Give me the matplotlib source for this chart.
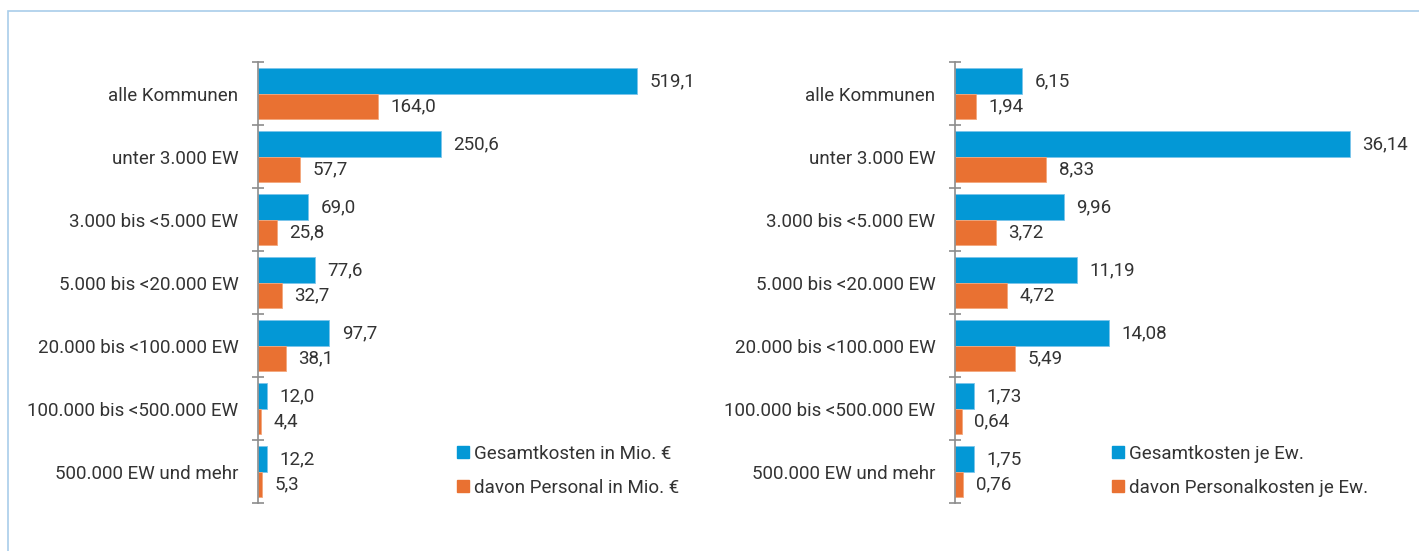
import matplotlib.pyplot as plt
from matplotlib.lines import Line2D
from matplotlib.patches import Rectangle
import numpy as np

plt.rcParams['font.family'] = ['Roboto', 'DejaVu Sans']

categories = ["alle Kommunen", "unter 3.000 EW", "3.000 bis <5.000 EW",
              "5.000 bis <20.000 EW", "20.000 bis <100.000 EW",
              "100.000 bis <500.000 EW", "500.000 EW und mehr"]
gesamt_mio = [519.1, 250.6, 69.0, 77.6, 97.7, 12.0, 12.2]
personal_mio = [164.0, 57.7, 25.8, 32.7, 38.1, 4.4, 5.3]
gesamt_ew = [6.15, 36.14, 9.96, 11.19, 14.08, 1.73, 1.75]
personal_ew = [1.94, 8.33, 3.72, 4.72, 5.49, 0.64, 0.76]

blue = '#0398d6'
orange = '#e97132'
txt = '#333333'
grey = '#8c8c8c'
fs = 13.5

fig = plt.figure(figsize=(14.19, 5.51), dpi=100)
fig.patches.append(Rectangle((8 / 1419, -0.1), 1.2, 1 - 11 / 551 + 0.1,
                             transform=fig.transFigure, fill=False,
                             edgecolor='#a9cdea', linewidth=1.2))

ax1 = fig.add_axes([258 / 1419, 48 / 551, 442 / 1419, 441 / 551])
ax2 = fig.add_axes([955 / 1419, 48 / 551, 455 / 1419, 441 / 551])


def draw(ax, g, p, xmax, fmt):
    y = np.arange(len(categories))
    h = 0.4
    ax.barh(y - h / 2, g, height=h, color=blue, edgecolor='#7cc4ea', linewidth=0.6)
    ax.barh(y + h / 2, p, height=h, color=orange, edgecolor='#f3a77c', linewidth=0.6)
    for yi, v in zip(y, g):
        ax.annotate(fmt.format(v).replace('.', ','), (v, yi - h / 2), xytext=(9, 0),
                    textcoords='offset points', va='center', ha='left',
                    fontsize=fs, color=txt)
    for yi, v in zip(y, p):
        ax.annotate(fmt.format(v).replace('.', ','), (v, yi + h / 2), xytext=(9, 0),
                    textcoords='offset points', va='center', ha='left',
                    fontsize=fs, color=txt)
    ax.set_xlim(0, xmax)
    ax.set_ylim(len(categories) - 0.5, -0.5)
    ax.set_yticks(y)
    ax.set_yticklabels(categories, fontsize=fs, color=txt, va='center_baseline')
    ax.set_yticks(np.arange(len(categories) + 1) - 0.5, minor=True)
    ax.tick_params(axis='y', which='major', length=0, pad=14)
    ax.tick_params(axis='y', which='minor', length=9, direction='inout',
                   color=grey, width=1.2)
    ax.set_xticks([])
    for s in ['top', 'right', 'bottom']:
        ax.spines[s].set_visible(False)
    ax.spines['left'].set_color(grey)
    ax.spines['left'].set_linewidth(1.2)
    handles = [Line2D([], [], marker='s', ls='', color=blue, markersize=8),
               Line2D([], [], marker='s', ls='', color=orange, markersize=8)]
    return handles


h1 = draw(ax1, gesamt_mio, personal_mio, 442 / 0.730, "{:.1f}")
h2 = draw(ax2, gesamt_ew, personal_ew, 455 / 10.93, "{:.2f}")

fig.legend(h1, ["Gesamtkosten in Mio. €", "davon Personal in Mio. €"],
           loc='upper left', bbox_to_anchor=(437 / 1419, 1 - 428 / 551),
           frameon=False, fontsize=fs, handletextpad=0.05, labelspacing=0.85,
           labelcolor=txt, handlelength=1.0)
fig.legend(h2, ["Gesamtkosten je Ew.", "davon Personalkosten je Ew."],
           loc='upper left', bbox_to_anchor=(1092 / 1419, 1 - 428 / 551),
           frameon=False, fontsize=fs, handletextpad=0.05, labelspacing=0.85,
           labelcolor=txt, handlelength=1.0)

plt.savefig('out.png', dpi=100)
